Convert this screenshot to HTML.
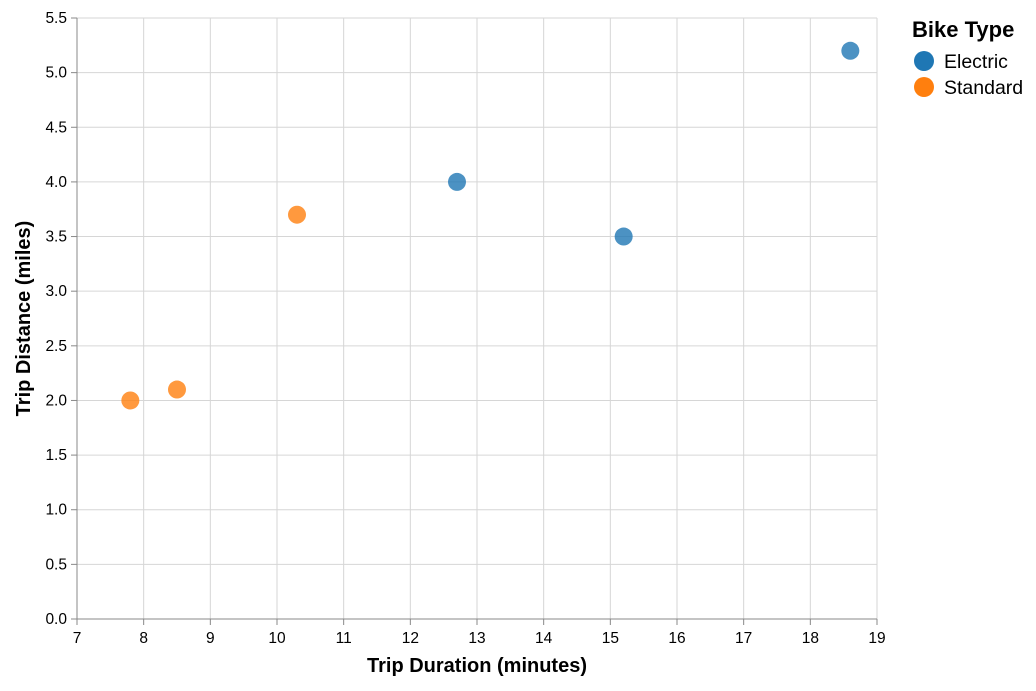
<!DOCTYPE html>
<html><head><meta charset="utf-8"><style>
body{margin:0;background:#fff;font-family:"Liberation Sans",Arial,sans-serif}
</style></head><body>
<svg id="chart" width="1036" height="686" xmlns="http://www.w3.org/2000/svg"></svg>
<script>
const durations=[7.8,8.5,10.3,12.7,15.2,18.6];
const distances=[2.0,2.1,3.7,4.0,3.5,5.2];
const types=["Standard","Standard","Standard","Electric","Electric","Electric"];
const xTicks=[7,8,9,10,11,12,13,14,15,16,17,18,19];
const yTicks=[0,0.5,1,1.5,2,2.5,3,3.5,4,4.5,5,5.5];
const legendTypes=["Electric","Standard"];
const colors={Electric:"#1f77b4",Standard:"#ff7f0e"};
const L=77,R=877,T=18,B=619;
const x=v=>L+(v-7)/(19-7)*(R-L);
const y=v=>B-(v/5.5)*(B-T);
const svg=document.getElementById('chart');
const NS="http://www.w3.org/2000/svg";
function mk(tag,attrs,txt){const e=document.createElementNS(NS,tag);for(const k in attrs)e.setAttribute(k,attrs[k]);if(txt!==undefined)e.textContent=txt;svg.appendChild(e);return e;}
xTicks.forEach(t=>{
 const g=mk('line',{x1:x(t),x2:x(t),y1:T,y2:B,stroke:'#d6d6d6'});
 
 
 const tk=mk('line',{x1:x(t),x2:x(t),y1:B,y2:B+6,stroke:'#888'});
 
 
 const lb=mk('text',{x:x(t),y:B+24,'text-anchor':'middle','font-size':15.5,fill:'#000'},String(t));
 
 
});
yTicks.forEach(t=>{
 const g=mk('line',{x1:L,x2:R,y1:y(t),y2:y(t),stroke:'#d6d6d6'});
 
 
 const tk=mk('line',{x1:L-6,x2:L,y1:y(t),y2:y(t),stroke:'#888'});
 
 
 const lb=mk('text',{x:L-10,y:y(t)+5,'text-anchor':'end','font-size':15.5,fill:'#000'},t.toFixed(1));
 
 
});
const xa=mk('line',{x1:L,x2:R,y1:B,y2:B,stroke:'#888'});


const ya=mk('line',{x1:L,x2:L,y1:T,y2:B,stroke:'#888'});


const xt=mk('text',{x:(L+R)/2,y:672,'text-anchor':'middle','font-size':20,'font-weight':'bold'},'Trip Duration (minutes)');


const yt=mk('text',{x:0,y:0,transform:`translate(30,${(T+B)/2}) rotate(-90)`,'text-anchor':'middle','font-size':20,'font-weight':'bold'},'Trip Distance (miles)');


durations.forEach((d,i)=>{
 const c=mk('circle',{cx:x(d),cy:y(distances[i]),r:9,fill:colors[types[i]],'fill-opacity':0.8});
 
 
});
const lt=mk('text',{x:912,y:37,'font-size':22,'font-weight':'bold'},'Bike Type');


legendTypes.forEach((t,i)=>{
 const c=mk('circle',{cx:924,cy:61+i*26,r:10,fill:colors[t]});
 
 
 const l=mk('text',{x:944,y:68+i*26,'font-size':19.5},t);
 
 
});
</script>
</body></html>
